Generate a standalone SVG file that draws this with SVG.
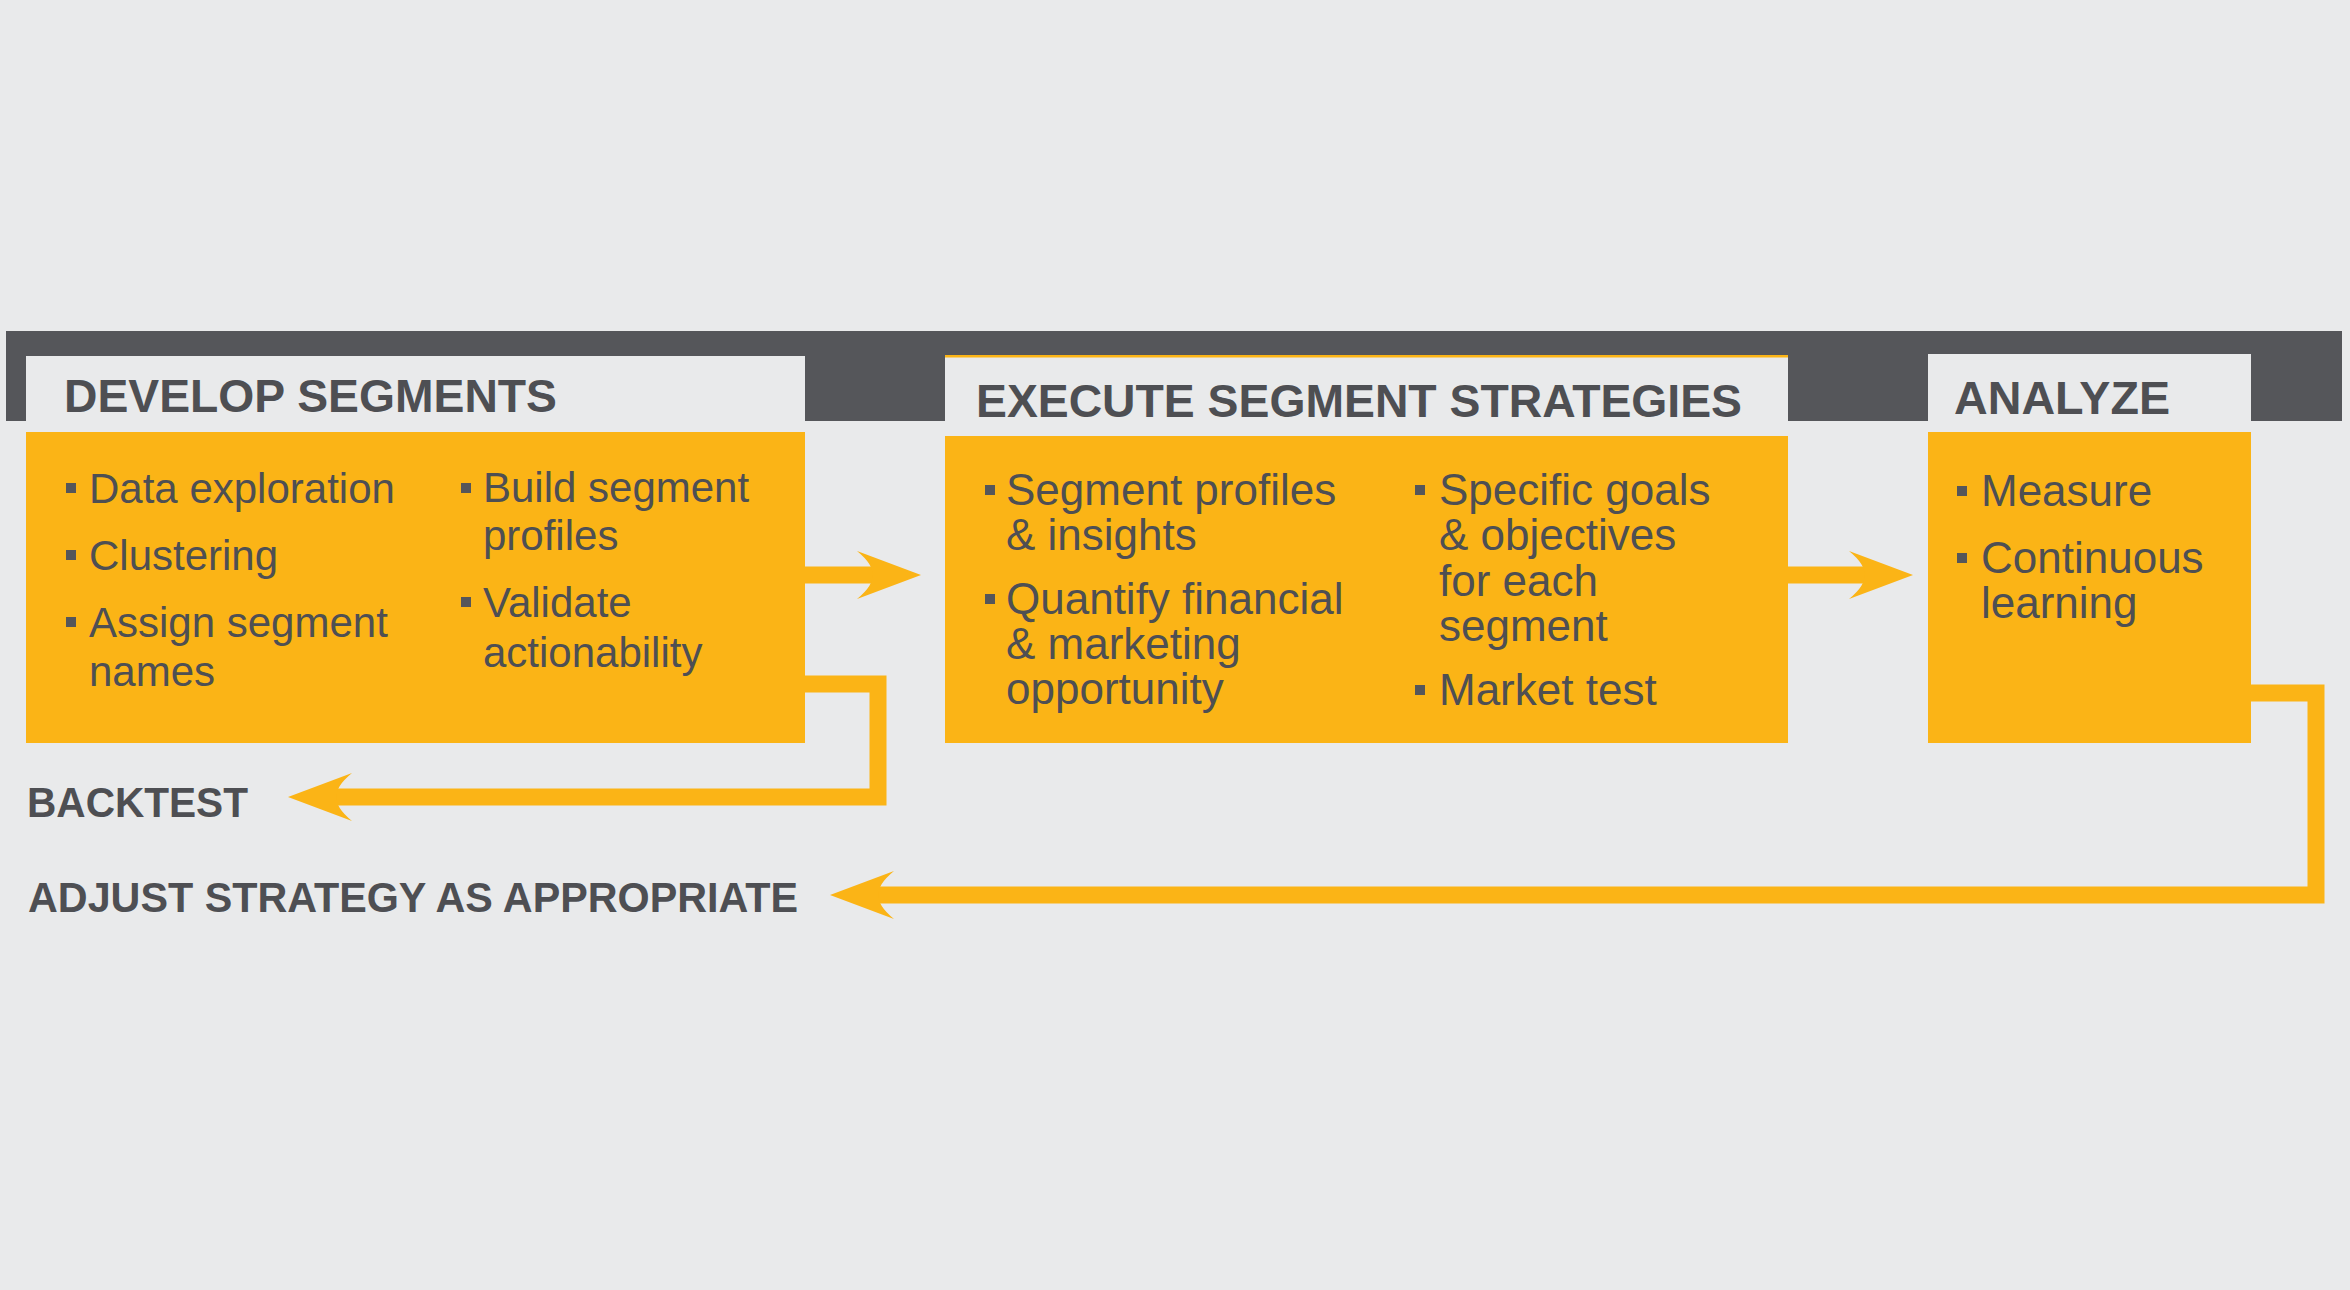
<svg xmlns="http://www.w3.org/2000/svg" width="2350" height="1290" viewBox="0 0 2350 1290">
  <style>
    .bg { fill: #e9eaeb; }
    .bar { fill: #55565a; }
    .hdr { fill: #e9eaeb; }
    .box { fill: #fbb416; }
    .title { font-family: "Liberation Sans", Arial, sans-serif; font-weight: bold; font-size: 46px; fill: #4e4f53; }
    .t42 { font-family: "Liberation Sans", Arial, sans-serif; font-size: 42px; fill: #4e4f53; }
    .t44 { font-family: "Liberation Sans", Arial, sans-serif; font-size: 44px; fill: #4e4f53; }
    .lbl { font-family: "Liberation Sans", Arial, sans-serif; font-weight: bold; font-size: 42px; fill: #4e4f53; }
    .bul { fill: #55565a; }
    .conn { fill: none; stroke: #fbb416; stroke-width: 17; stroke-linejoin: miter; }
    .head { fill: #fbb416; }
  </style>
  <defs>
    <path id="ah" d="M0,0 L-64,-24 Q-47,-10 -49,0 Q-47,10 -64,24 Z"/>
  </defs>
  <rect class="bg" x="0" y="0" width="2350" height="1290"/>
  <rect class="bar" x="6" y="331" width="2336" height="90"/>

  <g id="connectors">
    <path class="conn" d="M805,575 H891"/>
    <use href="#ah" class="head" transform="translate(921,575)"/>
    <path class="conn" d="M1788,575 H1883"/>
    <use href="#ah" class="head" transform="translate(1913,575)"/>
    <path class="conn" d="M805,684 H878 V797 H318"/>
    <use href="#ah" class="head" transform="translate(288,797) rotate(180)"/>
    <path class="conn" d="M2251,693 H2316 V895 H860"/>
    <use href="#ah" class="head" transform="translate(830,895) rotate(180)"/>
  </g>

  <g id="node-develop">
    <rect class="hdr" x="26" y="356" width="779" height="76"/>
    <text class="title" x="64" y="412" textLength="493" lengthAdjust="spacingAndGlyphs">DEVELOP SEGMENTS</text>
    <rect class="box" x="26" y="432" width="779" height="311"/>
    <rect class="bul" x="66" y="483" width="10" height="10"/>
    <text class="t42" x="89" y="503">Data exploration</text>
    <rect class="bul" x="66" y="550" width="10" height="10"/>
    <text class="t42" x="89" y="570">Clustering</text>
    <rect class="bul" x="66" y="617" width="10" height="10"/>
    <text class="t42" x="89" y="637">Assign segment</text>
    <text class="t42" x="89" y="686">names</text>
    <rect class="bul" x="461" y="483" width="10" height="10"/>
    <text class="t42" x="483" y="502">Build segment</text>
    <text class="t42" x="483" y="550">profiles</text>
    <rect class="bul" x="461" y="597" width="10" height="10"/>
    <text class="t42" x="483" y="617">Validate</text>
    <text class="t42" x="483" y="667">actionability</text>
  </g>

  <g id="node-execute">
    <rect class="hdr" x="945" y="356" width="843" height="80"/>
    <rect class="box" x="945" y="355" width="843" height="2.5"/>
    <text class="title" x="976" y="417" textLength="766" lengthAdjust="spacingAndGlyphs">EXECUTE SEGMENT STRATEGIES</text>
    <rect class="box" x="945" y="436" width="843" height="307"/>
    <rect class="bul" x="985" y="485" width="10" height="10"/>
    <text class="t44" x="1006" y="505">Segment profiles</text>
    <text class="t44" x="1006" y="550">&amp; insights</text>
    <rect class="bul" x="985" y="594" width="10" height="10"/>
    <text class="t44" x="1006" y="614">Quantify financial</text>
    <text class="t44" x="1006" y="659">&amp; marketing</text>
    <text class="t44" x="1006" y="704">opportunity</text>
    <rect class="bul" x="1415" y="485" width="10" height="10"/>
    <text class="t44" x="1439" y="505">Specific goals</text>
    <text class="t44" x="1439" y="550">&amp; objectives</text>
    <text class="t44" x="1439" y="596">for each</text>
    <text class="t44" x="1439" y="641">segment</text>
    <rect class="bul" x="1415" y="685" width="10" height="10"/>
    <text class="t44" x="1439" y="705">Market test</text>
  </g>

  <g id="node-analyze">
    <rect class="hdr" x="1928" y="354" width="323" height="78"/>
    <text class="title" x="1954" y="414" textLength="216" lengthAdjust="spacingAndGlyphs">ANALYZE</text>
    <rect class="box" x="1928" y="432" width="323" height="311"/>
    <rect class="bul" x="1957" y="486" width="10" height="10"/>
    <text class="t44" x="1981" y="506">Measure</text>
    <rect class="bul" x="1957" y="553" width="10" height="10"/>
    <text class="t44" x="1981" y="573">Continuous</text>
    <text class="t44" x="1981" y="618">learning</text>
  </g>

  <g id="labels">
    <text class="lbl" x="27" y="817" textLength="221" lengthAdjust="spacingAndGlyphs">BACKTEST</text>
    <text class="lbl" x="28" y="912" textLength="770" lengthAdjust="spacingAndGlyphs">ADJUST STRATEGY AS APPROPRIATE</text>
  </g>
</svg>
